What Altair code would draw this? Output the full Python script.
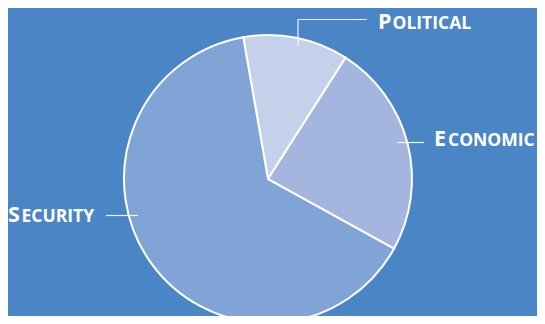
import math
import altair as alt
import pandas as pd

# ---- data ----
categories = ["Political", "Economic", "Security"]
shares = [11.8, 24.0, 64.2]
label_initials = ["P", "E", "S"]
label_rests = ["OLITICAL", "CONOMIC", "ECURITY"]

# ---- styling / layout ----
colors = ["#c5d1ea", "#a4b6dd", "#80a4d6"]
BG = "#4a86c6"
OFF = 8  # page margin
CX, CY, R = 267 - OFF, 179 - OFF, 144
START = 2 * math.pi - 0.173
FONT = "Open Sans"

df = pd.DataFrame({"category": categories, "share": shares, "order": list(range(len(categories)))})

pie = alt.Chart(df).mark_arc(stroke="white", strokeWidth=2, outerRadius=R).encode(
    theta=alt.Theta("share:Q", stack=True, scale=alt.Scale(range=[START, START + 2 * math.pi])),
    order=alt.Order("order:Q"),
    color=alt.Color("category:N", scale=alt.Scale(domain=categories, range=colors), legend=None),
    x=alt.value(CX),
    y=alt.value(CY),
)

# label layout: (initial x, rest x, baseline y)
label_pos = [(377, 391.5, 29), (433, 447, 146), (7, 20.5, 222)]
# leader lines: list of segments (x1, y1, x2, y2)
leaders = [
    [(297, 46, 297, 19.5), (297, 19.5, 366, 19.5)],
    [(396, 142.5, 423, 142.5)],
    [(105, 215.5, 137, 215.5)],
]

layers = [pie]
for i in range(len(categories)):
    xi, xr, yb = label_pos[i]
    tdf = pd.DataFrame({"a": [label_initials[i]], "b": [label_rests[i]]})
    base = alt.Chart(tdf)
    layers.append(
        base.mark_text(font=FONT, fontWeight="bold", fontSize=21.5, color="white",
                       align="left", baseline="alphabetic").encode(
            text="a:N", x=alt.value(xi - OFF), y=alt.value(yb - OFF))
    )
    layers.append(
        base.mark_text(font=FONT, fontWeight="bold", fontSize=17.5, color="white",
                       align="left", baseline="alphabetic").encode(
            text="b:N", x=alt.value(xr - OFF), y=alt.value(yb - OFF))
    )
    for (x1, y1, x2, y2) in leaders[i]:
        layers.append(
            base.mark_rule(color="white", strokeWidth=1.2, opacity=0.9).encode(
                x=alt.value(x1 - OFF), x2=alt.value(x2 - OFF),
                y=alt.value(y1 - OFF), y2=alt.value(y2 - OFF))
        )

chart = alt.layer(*layers).properties(
    width=529, height=308,
    autosize=alt.AutoSizeParams(type="fit", contains="padding"),
    padding=0,
    background=BG,
).configure_view(stroke=None)

chart.save("out.html", embed_options={"renderer": "svg", "actions": False})
